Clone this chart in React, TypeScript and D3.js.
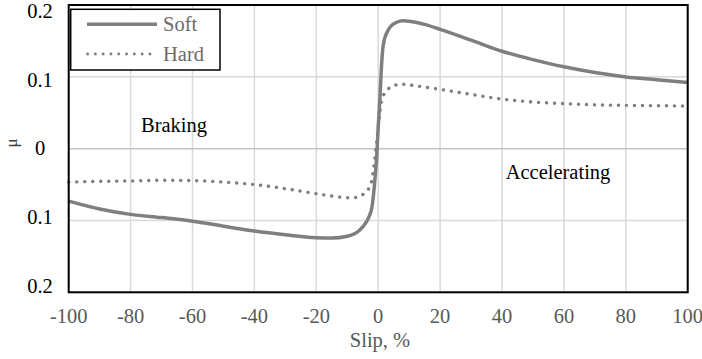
import React from "react";
import * as d3 from "d3";

// Friction coefficient vs. slip for soft and hard surfaces
const slipSoft = [-100, -90, -80, -70, -60, -50, -40, -30, -20, -15, -10, -7, -5, -3, -2, -1, -0.5, 0, 0.5, 1, 1.5, 2, 3, 4, 6, 8, 10, 15, 20, 30, 40, 50, 60, 70, 80, 90, 100];
const muSoft = [-0.073, -0.084, -0.0915, -0.096, -0.101, -0.108, -0.1148, -0.12, -0.124, -0.1245, -0.122, -0.117, -0.109, -0.095, -0.081, -0.04, -0.012, 0.03, 0.065, 0.11, 0.14, 0.152, 0.163, 0.17, 0.176, 0.178, 0.1775, 0.173, 0.166, 0.151, 0.1356, 0.124, 0.114, 0.106, 0.0998, 0.096, 0.092];

const slipHard = [-100, -90, -80, -70, -60, -50, -40, -30, -20, -15, -10, -7, -5, -4, -3, -2, -1.5, -1, -0.5, 0, 0.5, 1, 2, 3, 5, 8, 12, 20, 30, 40, 50, 60, 70, 80, 90, 100];
const muHard = [-0.0465, -0.0455, -0.045, -0.044, -0.0445, -0.0465, -0.05, -0.0558, -0.0627, -0.066, -0.0683, -0.068, -0.064, -0.061, -0.055, -0.043, -0.028, -0.01, 0.01, 0.03, 0.048, 0.065, 0.077, 0.082, 0.088, 0.0896, 0.0875, 0.0825, 0.0755, 0.069, 0.065, 0.0627, 0.061, 0.0603, 0.0598, 0.0594];

const xTicks = [-100, -80, -60, -40, -20, 0, 20, 40, 60, 80, 100];
const yTicks = [0.2, 0.1, 0, -0.1, -0.2];
const yTickLabels = ["0.2", "0.1", "0", "0.1", "0.2"];

const seriesNames = ["Soft", "Hard"];

const W = 702;
const H = 359;
const left = 68.7;
const right = 687.7;
const top = 5;
const bottom = 292.3;

const serif = "'Liberation Serif', 'Times New Roman', serif";
const lineGray = "#7f7f7f";

export default function App() {
  const x = d3.scaleLinear().domain([-100, 100]).range([left, right]);
  const y = d3.scaleLinear().domain([-0.2, 0.2]).range([bottom, top]);
  // tick labels sit slightly inside the extreme gridlines
  const yLabel = d3.scaleLinear().domain([0.2, -0.2]).range([top + 5.7, bottom - 6.8]);

  const line = d3
    .line<[number, number]>()
    .x((d) => x(d[0]))
    .y((d) => y(d[1]))
    .curve(d3.curveMonotoneX);

  const softPath = line(slipSoft.map((s, i) => [s, muSoft[i]] as [number, number])) || "";
  const hardPath = line(slipHard.map((s, i) => [s, muHard[i]] as [number, number])) || "";

  return (
    <svg
      width={W}
      height={H}
      style={{ position: "absolute", left: 0, top: 0, background: "#fff" }}
      fontFamily={serif}
    >
      {/* vertical gridlines */}
      {xTicks.map((t) => (
        <line key={"vx" + t} x1={x(t)} x2={x(t)} y1={top} y2={bottom} stroke="#d9d9d9" strokeWidth={1.5} />
      ))}
      {/* horizontal gridlines */}
      {yTicks.map((t) => (
        <line
          key={"hy" + t}
          x1={left}
          x2={right}
          y1={y(t)}
          y2={y(t)}
          stroke={t === 0 ? "#c4c4c4" : "#d9d9d9"}
          strokeWidth={1.5}
        />
      ))}

      {/* series */}
      <path d={hardPath} fill="none" stroke={lineGray} strokeWidth={3.4} strokeDasharray="0.1 7.9" strokeLinecap="round" />
      <path d={softPath} fill="none" stroke={lineGray} strokeWidth={3.5} strokeLinejoin="round" />

      {/* plot frame */}
      <rect x={left} y={top} width={right - left} height={bottom - top} fill="none" stroke="#000" strokeWidth={2} />

      {/* region annotations */}
      <text x={174} y={131.5} textAnchor="middle" fontSize={20.5} fill="#000">Braking</text>
      <text x={558} y={179} textAnchor="middle" fontSize={20.5} fill="#000">Accelerating</text>

      {/* legend */}
      <rect x={70.7} y={9.3} width={149.3} height={60.7} fill="#fff" stroke="#000" strokeWidth={1.5} />
      <line x1={87} x2={157} y1={24.3} y2={24.3} stroke={lineGray} strokeWidth={3.5} />
      <text x={163} y={31} fontSize={20.5} fill="#6b6b6b">{seriesNames[0]}</text>
      <line x1={87.5} x2={157} y1={54} y2={54} stroke={lineGray} strokeWidth={2.8} strokeDasharray="0.1 7.7" strokeLinecap="round" />
      <text x={163} y={61} fontSize={20.5} fill="#6b6b6b">{seriesNames[1]}</text>

      {/* y tick labels */}
      {yTicks.map((t, i) => (
        <text key={"yl" + t} x={40} y={yLabel(t)} dy="0.35em" textAnchor="middle" fontSize={20.5} fill="#000">
          {yTickLabels[i]}
        </text>
      ))}
      {/* x tick labels */}
      {xTicks.map((t) => (
        <text key={"xl" + t} x={x(t)} y={323} textAnchor="middle" fontSize={20.5} fill="#595959">
          {t}
        </text>
      ))}

      {/* axis titles */}
      <text x={380} y={346.5} textAnchor="middle" fontSize={20.5} fill="#595959">Slip, %</text>
      <text
        transform={`translate(17, 143) rotate(-90)`}
        textAnchor="middle"
        fontSize={17}
        fill="#404040"
      >
        μ
      </text>
    </svg>
  );
}
